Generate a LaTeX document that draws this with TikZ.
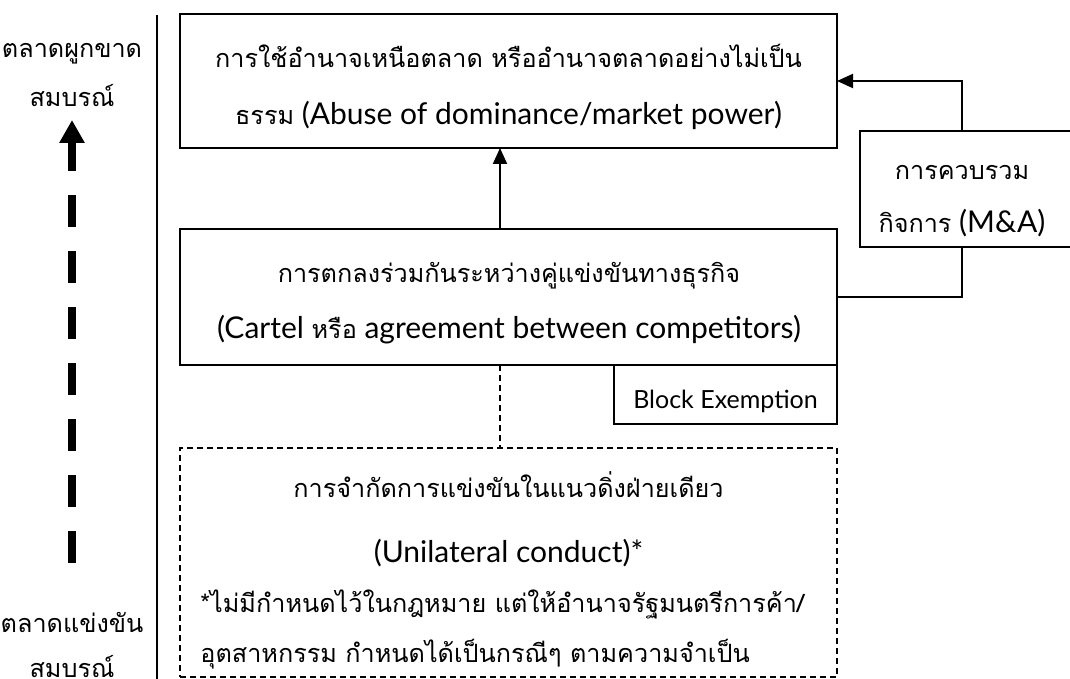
\documentclass[tikz,border=0pt]{standalone}
\usepackage{fontspec}
\setmainfont{Lato}
\newfontfamily\thaifont[Script=Thai,Scale=0.84]{Loma}
\newcommand\thtxt[1]{{\thaifont #1}}
\usetikzlibrary{arrows.meta}
\begin{document}
\begin{tikzpicture}[x=0.5pt,y=-0.5pt,
  box/.style={draw, line width=1pt, inner sep=0pt, outer sep=0pt},
  dbox/.style={draw, line width=1pt, inner sep=0pt, outer sep=0pt, dash pattern=on 3pt off 2pt},
  txt/.style={anchor=base, inner sep=0pt, font=\fontsize{15}{18}\selectfont},
  smalltxt/.style={anchor=base, inner sep=0pt, font=\fontsize{12.5}{15}\selectfont},
  link/.style={line width=1pt},
  arr/.style={line width=1pt, -{Triangle[length=8pt,width=7pt]}},
  bigarr/.style={line width=4pt, dash pattern=on 16pt off 12pt, -{Triangle[length=11.5pt,width=12pt]}}
]
\useasboundingbox (0,0) rectangle (1070,679);
% divider
\coordinate (vtop) at (157,15);
\coordinate (vbot) at (157,690);
\draw[link] (vtop) -- (vbot);
% left axis
\node[txt] (l1) at (72,58) {\thtxt{ตลาดผูกขาด}};
\node[txt] (l2) at (72,107) {\thtxt{สมบรณ์}};
\node[txt] (l3) at (72,632) {\thtxt{ตลาดแข่งขัน}};
\node[txt] (l4) at (72,677) {\thtxt{สมบรณ์}};
\coordinate (abot) at (72,563);
\coordinate (atop) at (72,120);
\draw[bigarr] (abot) -- (atop);
% boxes
\node[box, minimum width=328.5pt, minimum height=67pt] (abuse) at (508.5,81) {};
\node[box, minimum width=328.5pt, minimum height=68pt] (cartel) at (508.5,297) {};
\node[box, minimum width=110pt, minimum height=58pt] (ma) at (970,189) {};
\node[box, minimum width=111.5pt, minimum height=29.5pt] (block) at (725.5,394.5) {};
\node[dbox, minimum width=328.5pt, minimum height=114.5pt] (uni) at (508.5,562.5) {};
% texts
\node[txt] (t1) at (508.5,68) {\thtxt{การใช้อำนาจเหนือตลาด หรืออำนาจตลาดอย่างไม่เป็น}};
\node[txt] (t2) at (508.5,125) {\thtxt{ธรรม} (Abuse of dominance/market power)};
\node[txt] (c1) at (509,283) {\thtxt{การตกลงร่วมกันระหว่างคู่แข่งขันทางธุรกิจ}};
\node[txt] (c2) at (509,338) {(Cartel \thtxt{หรือ} agreement between competitors)};
\node[txt] (m1) at (962,180) {\thtxt{การควบรวม}};
\node[txt] (m2) at (962,233) {\thtxt{กิจการ} (M\&A)};
\node[smalltxt] (b1) at (725.5,408) {Block Exemption};
\node[txt] (u1) at (508.5,497) {\thtxt{การจำกัดการแข่งขันในแนวดิ่งฝ่ายเดียว}};
\node[txt] (u2) at (508.5,562) {(Unilateral conduct)*};
\node[txt, anchor=base west] (u3) at (200,612) {\thtxt{*ไม่มีกำหนดไว้ในกฎหมาย แต่ให้อำนาจรัฐมนตรีการค้า/}};
\node[txt, anchor=base west] (u4) at (200,662) {\thtxt{อุตสาหกรรม กำหนดได้เป็นกรณีๆ ตามความจำเป็น}};
% connectors
\coordinate (ax) at (500,0);
\coordinate (mx) at (962,0);
\draw[arr] (cartel.north -| ax) -- (abuse.south -| ax);
\draw[arr] (ma.north -| mx) |- (abuse.east);
\draw[link] (ma.south -| mx) |- (cartel.east);
\draw[link, dash pattern=on 3pt off 2pt] (cartel.south -| ax) -- (uni.north -| ax);
\end{tikzpicture}
\end{document}
